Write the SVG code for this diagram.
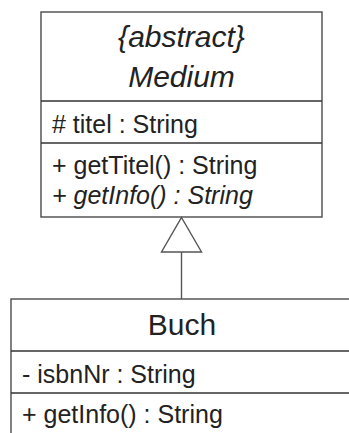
<svg xmlns="http://www.w3.org/2000/svg" width="349" height="433" viewBox="0 0 349 433">
<style>
.box{fill:#fff;stroke:#4a4a4a;stroke-width:1.4}
.div{stroke:#333;stroke-width:1.4}
.t{font-family:"Liberation Sans",Arial,sans-serif;fill:#222}
.title{font-size:30px;text-anchor:middle}
.mem{font-size:25px}
.it{font-style:italic}
.conn{fill:none;stroke:#555;stroke-width:1.4}
.head{fill:#fff;stroke:#555;stroke-width:1.4;stroke-linejoin:miter}
</style>
<rect width="349" height="433" fill="#fff"/>
<g id="Medium">
<rect class="box" x="41" y="12" width="281" height="205"/>
<line class="div" x1="41" y1="101" x2="322" y2="101"/>
<line class="div" x1="41" y1="143" x2="322" y2="143"/>
<text class="t title it" x="181.5" y="47">{abstract}</text>
<text class="t title it" x="181.5" y="87">Medium</text>
<text class="t mem" x="52" y="133"># titel : String</text>
<text class="t mem" x="52" y="174">+ getTitel() : String</text>
<text class="t mem it" x="52" y="204">+ getInfo() : String</text>
</g>
<g id="Buch">
<rect class="box" x="11" y="299" width="342" height="150"/>
<line class="div" x1="11" y1="351" x2="353" y2="351"/>
<line class="div" x1="11" y1="393" x2="353" y2="393"/>
<text class="t title" x="182" y="335">Buch</text>
<text class="t mem" x="22" y="383">- isbnNr : String</text>
<text class="t mem" x="22" y="423">+ getInfo() : String</text>
</g>
<g id="connectors">
<path class="conn" d="M181.5,299 L181.5,252"/>
<path class="head" d="M181.5,217.5 L201.5,252 L161.5,252 Z"/>
</g>
</svg>
